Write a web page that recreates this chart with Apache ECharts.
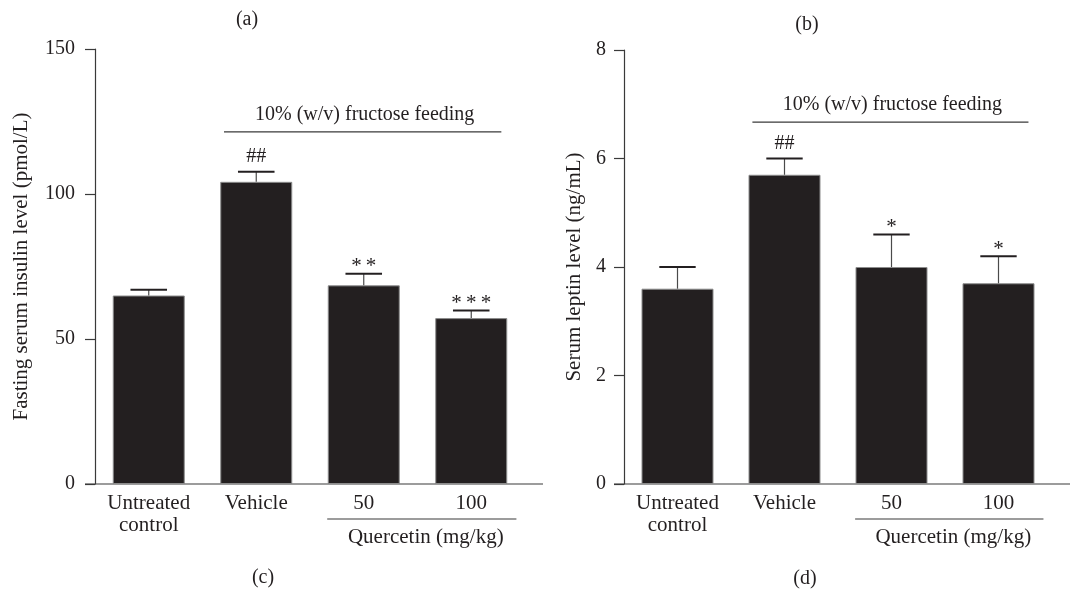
<!DOCTYPE html>
<html>
<head>
<meta charset="utf-8">
<script src="https://cdn.jsdelivr.net/npm/echarts@6/dist/echarts.min.js"></script>
<style>
html,body{margin:0;padding:0;background:#fff;}
#chart{width:1071px;height:595px;}
</style>
</head>
<body>
<div id="chart"></div>
<script>
// ---- data ----
const categories = ['Untreated\ncontrol', 'Vehicle', '50', '100'];
const insulinMean = [65, 104.2, 68.5, 57.2];
const insulinErr = [2, 3.5, 4, 2.6];
const insulinSig = ['', '##', '**', '***'];
const leptinMean = [3.6, 5.7, 4.0, 3.7];
const leptinErr = [0.4, 0.3, 0.6, 0.5];
const leptinSig = ['', '##', '*', '*'];
const insulinTicks = [0, 50, 100, 150];
const leptinTicks = [0, 2, 4, 6, 8];
const insulinTitle = 'Fasting serum insulin level (pmol/L)';
const leptinTitle = 'Serum leptin level (ng/mL)';
const groupLabel = '10% (w/v) fructose feeding';
const doseLabel = 'Quercetin (mg/kg)';
const panelLabels = ['(a)', '(b)', '(c)', '(d)'];

// ---- style ----
const FONT = '"Liberation Serif", "DejaVu Serif", serif';
const INK = '#231f20';
const FS = 20;
const W = 1071, H = 595;
const G = [
  {left: 95, right: 546, top: 49, bottom: 111},
  {left: 624, right: 19, top: 50, bottom: 111}
];

const chart = echarts.init(document.getElementById('chart'), null, {renderer: 'canvas'});

function yAxisCfg(gi, ticks, name, gap, margin) {
  return {
    type: 'value', gridIndex: gi,
    min: ticks[0], max: ticks[ticks.length - 1], interval: ticks[1] - ticks[0],
    name: name, nameLocation: 'middle', nameGap: gap,
    nameTextStyle: {fontFamily: FONT, fontSize: 21, color: INK},
    axisLine: {show: true, lineStyle: {color: '#3a3a3a', width: 1.2}},
    axisTick: {show: true, inside: false, length: 10, lineStyle: {color: '#3a3a3a', width: 1.2}},
    axisLabel: {fontFamily: FONT, fontSize: FS, color: INK, margin: margin},
    splitLine: {show: false}
  };
}
function xAxisCfg(gi) {
  return {
    type: 'category', gridIndex: gi, data: categories,
    axisLine: {show: false}, axisTick: {show: false},
    axisLabel: {fontFamily: FONT, fontSize: 21, color: INK, margin: 8, lineHeight: 22, interval: 0}
  };
}
function spaced(s) {
  return s.split('').join('\u2009');
}
function errSeries(gi, mean, err, sig) {
  return {
    type: 'custom', xAxisIndex: gi, yAxisIndex: gi, z: 3,
    data: mean.map((m, i) => [i, m, err[i]]),
    encode: {x: 0, y: 1},
    renderItem: function (params, api) {
      const i = api.value(0), v = api.value(1), e = api.value(2);
      const s = sig[i];
      const top = api.coord([i, v]);
      const cap = api.coord([i, v + e]);
      const hw = api.size([1, 0])[0] * 0.17;
      const isHash = s.indexOf('#') >= 0;
      return {
        type: 'group',
        children: [
          {type: 'line', shape: {x1: top[0], y1: top[1], x2: cap[0], y2: cap[1]},
           style: {stroke: '#4a4a4a', lineWidth: 1.2}},
          {type: 'line', shape: {x1: cap[0] - hw, y1: cap[1], x2: cap[0] + hw, y2: cap[1]},
           style: {stroke: INK, lineWidth: 2}},
          {type: 'text', x: cap[0], y: cap[1] - (isHash ? 15 : 7),
           style: {text: isHash ? s : spaced(s), fontFamily: FONT, fontSize: isHash ? FS : 21, fill: INK,
                   align: 'center', verticalAlign: 'middle'}}
        ]
      };
    }
  };
}
function barSeries(gi, mean) {
  return {
    type: 'bar', xAxisIndex: gi, yAxisIndex: gi, data: mean, barWidth: 72,
    itemStyle: {color: INK, borderColor: '#8c8c8c', borderWidth: 1},
    z: 2, silent: true
  };
}

chart.setOption({
  animation: false,
  backgroundColor: '#fff',
  grid: G.map(g => Object.assign({containLabel: false}, g)),
  xAxis: [xAxisCfg(0), xAxisCfg(1)],
  yAxis: [yAxisCfg(0, insulinTicks, insulinTitle, 63, 20), yAxisCfg(1, leptinTicks, leptinTitle, 39, 18)],
  series: [
    barSeries(0, insulinMean), errSeries(0, insulinMean, insulinErr, insulinSig),
    barSeries(1, leptinMean), errSeries(1, leptinMean, leptinErr, leptinSig)
  ]
});

// ---- decorations anchored to the axes ----
function px(gi, cat, val) {
  return chart.convertToPixel({xAxisIndex: gi, yAxisIndex: gi}, [cat, val]);
}
const gfx = [];
const lineStyle = {stroke: '#3a3a3a', lineWidth: 1.2};
[0, 1].forEach(gi => {
  const g = G[gi];
  const y0 = px(gi, 0, 0)[1];
  const xl = g.left - 10, xr = W - g.right + 18;
  gfx.push({type: 'line', shape: {x1: xl, y1: y0, x2: Math.min(xr, W), y2: y0}, style: lineStyle});
  const band = px(gi, 1, 0)[0] - px(gi, 0, 0)[0];
  // fructose bracket
  const fy = gi === 0 ? px(gi, 0, 121.4)[1] : px(gi, 0, 6.67)[1];
  const fx1 = px(gi, 1, 0)[0] - band * 0.30;
  const fx2 = px(gi, 3, 0)[0] + band * 0.28;
  gfx.push({type: 'line', shape: {x1: fx1, y1: fy, x2: fx2, y2: fy}, style: lineStyle});
  gfx.push({type: 'text', x: (fx1 + fx2) / 2 + 2, y: fy - 17,
    style: {text: groupLabel, fontFamily: FONT, fontSize: FS, fill: INK, align: 'center', verticalAlign: 'middle'}});
  // quercetin bracket
  const qx1 = px(gi, 2, 0)[0] - band * 0.34;
  const qx2 = px(gi, 3, 0)[0] + band * 0.42;
  const qy = y0 + 35;
  gfx.push({type: 'line', shape: {x1: qx1, y1: qy, x2: qx2, y2: qy}, style: lineStyle});
  gfx.push({type: 'text', x: (qx1 + qx2) / 2 + 4, y: qy + 18,
    style: {text: doseLabel, fontFamily: FONT, fontSize: 21, fill: INK, align: 'center', verticalAlign: 'middle'}});
});
const panelPos = [[247, 20], [807, 25], [263, 578], [805, 579]];
panelLabels.forEach((t, i) => {
  gfx.push({type: 'text', x: panelPos[i][0], y: panelPos[i][1],
    style: {text: t, fontFamily: FONT, fontSize: 20, fill: INK, align: 'center', verticalAlign: 'middle'}});
});
chart.setOption({graphic: gfx});
</script>
</body>
</html>
